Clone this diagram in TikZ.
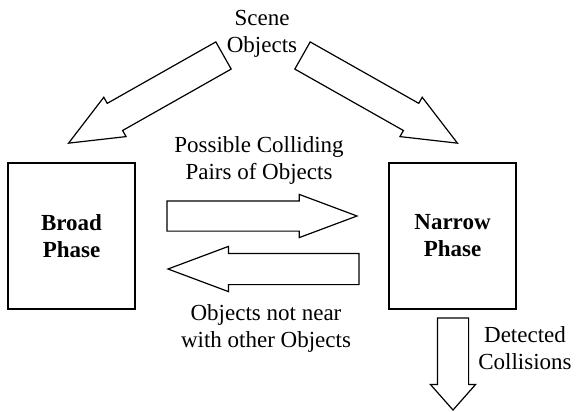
\documentclass[tikz,border=0pt]{standalone}
\usepackage{fontspec}
\setmainfont{Liberation Serif}
\usetikzlibrary{shapes.arrows}

\begin{document}
\begin{tikzpicture}[
    x=0.5pt, y=-0.5pt,
    phase/.style={rectangle, draw, line width=0.6pt, minimum width=63.5pt, minimum height=73pt, inner sep=0pt, align=center, font=\fontsize{11.5}{13.5}\selectfont\bfseries},
    flowtext/.style={align=center, inner sep=0pt, font=\fontsize{11.5}{13.5}\selectfont},
    bigarrow/.style={single arrow, draw, line width=0.6pt, inner xsep=0pt, inner ysep=7.5pt, outer sep=0pt, anchor=tail, minimum width=0pt, single arrow head extend=3.5pt}
]
\useasboundingbox (0,0) rectangle (576,411);

% Nodes
\node (broad) [phase] at (71.5,236) {Broad\\Phase};
\node (narrow) [phase] at (452.5,236) {Narrow\\Phase};
\node (scene) [flowtext] at (262,34) {Scene\\Objects};
\node (pairs) [flowtext] at (259,160) {Possible Colliding\\Pairs of Objects};
\node (apart) [flowtext] at (266,328) {Objects not near\\with other Objects};
\node (found) [flowtext] at (525,348) {Detected\\Collisions};

% Connections (block arrows)
\node (toBroad) [bigarrow, rotate=209.5, minimum height=89pt, single arrow tip angle=46] at (223.5,55.5) {};
\node (toNarrow) [bigarrow, rotate=-29.5, minimum height=89pt, single arrow tip angle=46] at (302.5,55.5) {};
\node (forward) [bigarrow, inner ysep=7.25pt, single arrow head extend=3.25pt, minimum height=95pt, single arrow tip angle=41] at (167,216) {};
\node (back) [bigarrow, rotate=180, minimum height=95.5pt, single arrow tip angle=41] at (359,269) {};
\node (result) [bigarrow, rotate=-90, minimum height=46pt, single arrow tip angle=83] at (453,318) {};

\end{tikzpicture}
\end{document}
